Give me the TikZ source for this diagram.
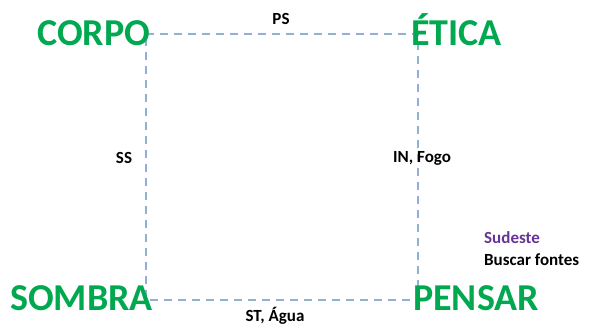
\documentclass[tikz,border=0pt]{standalone}
\usepackage{fontspec}
\setmainfont{Carlito}
\definecolor{titlegreen}{RGB}{0,168,80}
\definecolor{dashblue}{RGB}{145,176,216}
\definecolor{sudpurple}{RGB}{102,51,153}
\begin{document}
\begin{tikzpicture}[x=1pt,y=-1pt,
  title/.style={font=\fontsize{38}{40}\selectfont\bfseries, text=titlegreen, inner sep=0pt},
  lbl/.style={font=\fontsize{17}{19}\selectfont\bfseries, text=black, inner sep=0pt},
  edge/.style={draw=dashblue, line width=1.6pt, dash pattern=on 8pt off 6pt}]
\useasboundingbox (0,0) rectangle (591,325);
\coordinate (c1) at (146,34);
\coordinate (c2) at (418,34);
\coordinate (c3) at (418,300);
\coordinate (c4) at (146,300);
\draw[edge] (c1) -- (c2) -- (c3) -- (c4) -- (c1);
\node[title, anchor=base west] (corpo) at (37,45) {CORPO};
\node[title, anchor=base west] (etica) at (411,45) {ÉTICA};
\node[title, anchor=base west] (sombra) at (10,310) {SOMBRA};
\node[title, anchor=base west] (pensar) at (413,310) {PENSAR};
\node[lbl] (ps) at (281,19) {PS};
\node[lbl] (ss) at (124,158) {SS};
\node[lbl, anchor=west] (in) at (393,158) {IN, Fogo};
\node[lbl] (st) at (275,316) {ST, Água};
\node[lbl, anchor=west, text=sudpurple] (sud) at (484,238) {Sudeste};
\node[lbl, anchor=west] (busca) at (484,260) {Buscar fontes};
\end{tikzpicture}
\end{document}
